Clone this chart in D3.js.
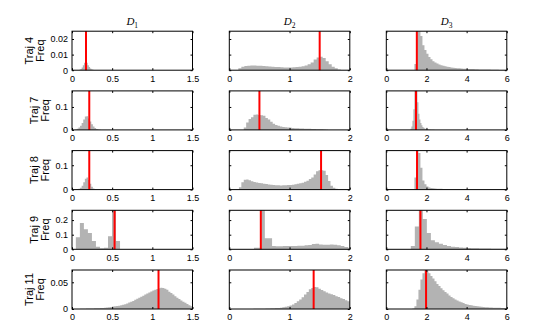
<!DOCTYPE html>
<html>
<head>
<meta charset="utf-8">
<script src="https://cdn.jsdelivr.net/npm/d3@7"></script>
<style>
body { margin: 0; background: #fff; }
</style>
</head>
<body>
<div id="grid"></div>
<script>
// rows are trajectories, columns the three parameters
var trajNames = ["Traj 4", "Traj 7", "Traj 8", "Traj 9", "Traj 11"];
var paramSubs = ["1", "2", "3"];

var xDomains = [[0, 1.5], [0, 2], [0, 6]];
var xTicks = [[0, 0.5, 1, 1.5], [0, 1, 2], [0, 2, 4, 6]];
var yMax = [0.025, 0.17, 0.16, 0.267, 0.073];
var yTicks = [[0, 0.01, 0.02], [0, 0.1], [0, 0.1], [0, 0.1, 0.2], [0, 0.05]];

// red line = true value
var trueVals = [
  [0.174, 1.5, 1.52],
  [0.215, 0.5, 1.48],
  [0.215, 1.523, 1.53],
  [0.53, 0.523, 1.7],
  [1.077, 1.4, 1.98]
];

// left edge of first bin and bin width, per panel
var binStart = [
  [0.09, 0.1, 1.4],
  [0.04, 0.24, 1.2],
  [0.04, 0.16, 1.4],
  [0.048, 0.41, 1.22],
  [0.1, 0.4, 1.3]
];
var binWidth = [
  [0.015, 0.05, 0.1],
  [0.02, 0.04, 0.05],
  [0.02, 0.04, 0.1],
  [0.05, 0.06, 0.2],
  [0.025, 0.04, 0.1]
];

// frequencies
var freqT4D1 = [0.0003,0.0008,0.0018,0.0032,0.0048,0.0055,0.0047,0.0032,0.002,0.0011,0.0006,0.0003,0.0001];
var freqT4D2 = [0.0002,0.0012,0.0022,0.0027,0.0029,0.003,0.003,0.0029,0.0028,0.0027,0.0025,0.0024,0.0022,0.0021,0.002,0.0019,0.0018,0.0018,
  0.0018,0.0019,0.002,0.0022,0.0025,0.003,0.0038,0.005,0.0068,0.0082,0.0087,0.0078,0.0058,0.0038,0.0022,0.0012,0.0005,0.0002];
var freqT4D3 = [0.004,0.06,0.04,0.022,0.016,0.013,0.0105,0.0085,0.007,0.0058,0.005,0.0043,0.0037,0.0032,0.0028,0.0025,0.0022,0.002,0.0018,
  0.0016,0.0014,0.0013,0.0012,0.0011,0.001,0.0009,0.0008,0.0008,0.0007,0.0007,0.0006,0.0006,0.0005,0.0005,0.0005,0.0004,0.0004,0.0004,
  0.0003,0.0003,0.0003,0.0003,0.0002,0.0002,0.0002,0.0002];

var freqT7D1 = [0.002,0.005,0.01,0.018,0.03,0.045,0.058,0.06,0.05,0.037,0.025,0.015,0.008,0.004,0.0015,0.0005];
var freqT7D2 = [0.01,0.032,0.047,0.055,0.066,0.067,0.065,0.064,0.062,0.052,0.045,0.035,0.027,0.021,0.018,0.015,0.013,0.012,0.011,0.009,
  0.008,0.0075,0.007,0.0065,0.006,0.0055,0.005,0.0045,0.004,0.0035,0.003,0.0028,0.0025,0.002,0.0012];
var freqT7D3 = [0.005,0.015,0.04,0.09,0.2,0.25,0.2,0.12,0.07,0.045,0.03,0.02,0.013,0.009,0.006,0.004,0.003,0.0025,0.002,0.0015,0.0012,
  0.001,0.0008,0.0006];

var freqT8D1 = [0.001,0.002,0.004,0.008,0.016,0.03,0.045,0.05,0.04,0.024,0.012,0.005,0.002,0.001];
var freqT8D2 = [0.01,0.03,0.04,0.041,0.038,0.034,0.031,0.029,0.027,0.026,0.024,0.023,0.021,0.02,0.019,0.018,0.018,0.017,0.018,0.018,
  0.019,0.019,0.02,0.022,0.024,0.026,0.028,0.032,0.036,0.043,0.05,0.062,0.075,0.079,0.079,0.077,0.06,0.035,0.016,0.008,0.003];
var freqT8D3 = [0.05,0.28,0.15,0.09,0.037,0.022,0.013,0.009,0.007,0.0055,0.0045,0.004,0.0035,0.003,0.0027,0.0024,0.0021,0.0019,0.0017,
  0.0015,0.0013,0.0012,0.0011,0.001,0.0009,0.0008,0.0007,0.0006,0.0005,0.0004,0.0003];

var freqT9D1 = [0.082,0.18,0.138,0.111,0.056,0.018,0.007,0.011,0.09,0.3,0.056];
var freqT9D2 = [0.011,0.011,0.35,0.076,0.076,0.022,0.021,0.021,0.022,0.022,0.022,0.023,0.024,0.025,0.027,0.03,0.036,0.038,0.033,0.031,
  0.032,0.033,0.031,0.027,0.023,0.015,0.01];
var freqT9D3 = [0.022,0.156,0.35,0.207,0.111,0.062,0.049,0.038,0.029,0.022,0.018,0.015,0.012,0.01,0.009,0.008,0.007,0.006,0.005,0.005,
  0.004,0.004,0.003,0.003];

var freqT11D1 = [0.0005,0.0006,0.0007,0.0008,0.0009,0.001,0.0011,0.0012,0.0014,0.0016,0.0018,0.002,0.0024,0.0028,0.0033,0.0038,0.0045,
  0.005,0.0055,0.0062,0.007,0.008,0.009,0.0105,0.012,0.0135,0.015,0.0172,0.0192,0.021,0.023,0.025,0.027,0.029,0.031,0.0328,0.0345,
  0.036,0.0375,0.039,0.0398,0.0395,0.038,0.0358,0.0325,0.0298,0.0272,0.024,0.021,0.0185,0.016,0.0138,0.0118,0.0095,0.0072,0.005];
var freqT11D2 = [0.0003,0.0004,0.0005,0.0006,0.0007,0.0008,0.001,0.0012,0.0014,0.0017,0.002,0.0025,0.0032,0.004,0.005,0.0065,0.0085,
  0.011,0.0145,0.018,0.022,0.027,0.032,0.037,0.0395,0.041,0.0405,0.038,0.0355,0.033,0.031,0.029,0.0275,0.026,0.024,0.0225,0.02,0.0185,
  0.0165,0.0145];
var freqT11D3 = [0.001,0.005,0.018,0.036,0.055,0.067,0.072,0.07,0.067,0.062,0.057,0.052,0.047,0.043,0.039,0.035,0.032,0.029,0.0255,
  0.0225,0.02,0.018,0.016,0.014,0.0125,0.011,0.0095,0.0085,0.0075,0.0068,0.006,0.0055,0.005,0.0045,0.004,0.0037,0.0034,0.0031,0.0029,
  0.0027,0.0025,0.0024,0.0023,0.0022,0.0021,0.002,0.0019];

var freqs = [
  [freqT4D1, freqT4D2, freqT4D3],
  [freqT7D1, freqT7D2, freqT7D3],
  [freqT8D1, freqT8D2, freqT8D3],
  [freqT9D1, freqT9D2, freqT9D3],
  [freqT11D1, freqT11D2, freqT11D3]
];

// layout of the 5x3 grid
var width = 559, height = 327;
var colLeft = [72, 229.3, 386.3], panelW = 120.5;
var rowTop0 = 31.2, rowStep = 59.7, panelH = 39;
var sans = "'Liberation Sans', Arial, sans-serif";

var svg = d3.select("#grid")
  .append("svg")
    .attr("width", width)
    .attr("height", height);

trajNames.forEach(function(name, r) {
  paramSubs.forEach(function(sub, c) {

    var g = svg.append("g")
      .attr("transform", "translate(" + colLeft[c] + "," + (rowTop0 + r * rowStep) + ")");

    var x = d3.scaleLinear().domain(xDomains[c]).range([0, panelW]);
    var y = d3.scaleLinear().domain([0, yMax[r]]).range([panelH, 0]);

    var clipId = "clip" + r + "_" + c;
    g.append("clipPath").attr("id", clipId)
      .append("rect").attr("width", panelW).attr("height", panelH);

    // histogram as a stepped area
    var vals = freqs[r][c], x0 = binStart[r][c], w = binWidth[r][c];
    var pts = vals.map(function(v, i) { return [x0 + i * w, v]; });
    pts.push([x0 + vals.length * w, vals[vals.length - 1]]);

    var area = d3.area()
      .curve(d3.curveStepAfter)
      .x(function(d) { return x(d[0]); })
      .y0(y(0))
      .y1(function(d) { return y(d[1]); });

    g.append("path")
      .datum(pts)
      .attr("clip-path", "url(#" + clipId + ")")
      .attr("fill", "#b3b3b3")
      .attr("d", area);

    // true value
    g.append("line")
      .attr("x1", x(trueVals[r][c])).attr("x2", x(trueVals[r][c]))
      .attr("y1", 0).attr("y2", panelH)
      .attr("stroke", "#ff0000")
      .attr("stroke-width", 2);

    // axes, ticks inside on all four sides
    g.append("g")
      .attr("transform", "translate(0," + panelH + ")")
      .call(d3.axisBottom(x).tickValues(xTicks[c]).tickFormat(d3.format("")).tickSize(-2).tickPadding(5));
    g.append("g")
      .call(d3.axisTop(x).tickValues(xTicks[c]).tickFormat("").tickSize(-2));
    var left = g.append("g")
      .call(d3.axisLeft(y).tickValues(yTicks[r]).tickFormat(c == 0 ? d3.format("") : "").tickSize(-2).tickPadding(4));
    g.append("g")
      .attr("transform", "translate(" + panelW + ",0)")
      .call(d3.axisRight(y).tickValues(yTicks[r]).tickFormat("").tickSize(-2));

    g.selectAll(".domain").remove();
    g.selectAll("text").attr("font-family", sans).attr("font-size", 9).attr("fill", "#000");

    g.append("rect")
      .attr("width", panelW).attr("height", panelH)
      .attr("fill", "none")
      .attr("stroke", "#000")
      .attr("stroke-width", 1);

    // column title D_k
    if (r == 0) {
      var t = g.append("text")
        .attr("x", panelW / 2).attr("y", -6)
        .attr("text-anchor", "middle")
        .attr("font-family", "'Liberation Serif', 'Times New Roman', serif")
        .attr("font-size", 11);
      t.append("tspan").attr("font-style", "italic").text("D");
      t.append("tspan").attr("font-size", 7.5).attr("dy", 2.5).text(sub);
    }

    // row label: two rotated lines
    if (c == 0) {
      var maxW = 0;
      left.selectAll("text").each(function() {
        maxW = Math.max(maxW, this.getComputedTextLength());
      });
      var xb = -4 - maxW - 6;
      [[name, xb - 11], ["Freq", xb]].forEach(function(l) {
        g.append("text")
          .attr("transform", "translate(" + l[1] + "," + (panelH / 2) + ")rotate(-90)")
          .attr("text-anchor", "middle")
          .attr("font-family", sans)
          .attr("font-size", 11)
          .text(l[0]);
      });
    }
  });
});
</script>
</body>
</html>
